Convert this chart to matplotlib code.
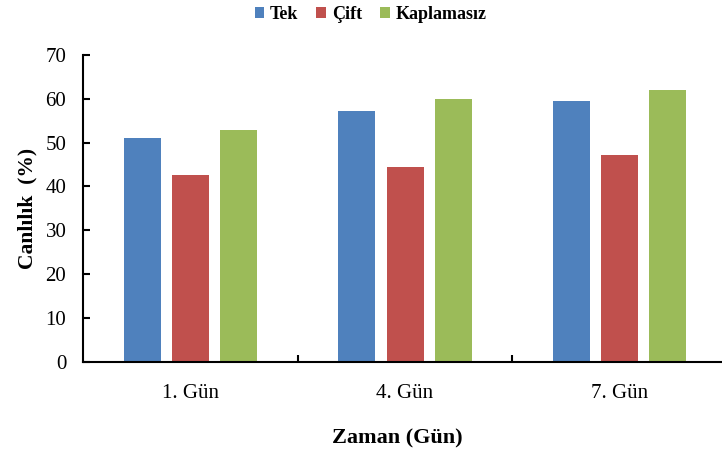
import matplotlib
matplotlib.use("Agg")
import matplotlib.pyplot as plt
import numpy as np
from matplotlib.patches import Patch

categories = ["1. Gün", "4. Gün", "7. Gün"]
series_names = ["Tek", "Çift", "Kaplamasız"]
tek = [51.0, 57.1, 59.4]
cift = [42.5, 44.4, 47.1]
kaplamasiz = [52.9, 59.9, 61.9]
colors = ["#4F81BD", "#C0504D", "#9BBB59"]
yticks = [0, 10, 20, 30, 40, 50, 60, 70]

plt.rcParams['font.family'] = ['Liberation Serif', 'DejaVu Serif']

fig = plt.figure(figsize=(7.22, 4.53), dpi=100)
ax = fig.add_axes([0.115, 0.201, 0.892, 0.678])

x = np.arange(len(categories))
width = 0.172
step = 0.224
for i, (vals, name, c) in enumerate(zip([tek, cift, kaplamasiz], series_names, colors)):
    ax.bar(x + (i - 1) * step, vals, width=width, color=c, label=name, zorder=2)

ax.set_xlim(-0.5, 2.5)
ax.set_ylim(0, 70)
ax.set_yticks(yticks)
ax.set_xticks(x)
ax.set_xticklabels(categories)
ax.set_xticks([0.5, 1.5, 2.5], minor=True)
ax.tick_params(axis='x', which='major', length=0, pad=16, labelsize=15)
ax.tick_params(axis='x', which='minor', direction='in', length=5, width=1.5)
ax.tick_params(axis='y', direction='in', length=5, width=1.5, pad=12, labelsize=15)
for s in ['top', 'right']:
    ax.spines[s].set_visible(False)
for s in ['left', 'bottom']:
    ax.spines[s].set_linewidth(1.5)

ax.set_ylabel("Canlılık  (%)", fontsize=15.5, fontweight='bold', labelpad=6)
fig.text(0.55, 0.033, "Zaman (Gün)", fontsize=16, fontweight='bold', ha='center', va='center')

handles = [Patch(facecolor=c, edgecolor='none') for c in colors]
fig.legend(handles, series_names, loc='center', bbox_to_anchor=(0.513, 0.968), ncol=3,
           frameon=False, prop={'weight': 'bold', 'size': 13}, handlelength=0.55,
           handleheight=0.55, handletextpad=0.3, columnspacing=1.0)

fig.savefig("out.png", dpi=100)
